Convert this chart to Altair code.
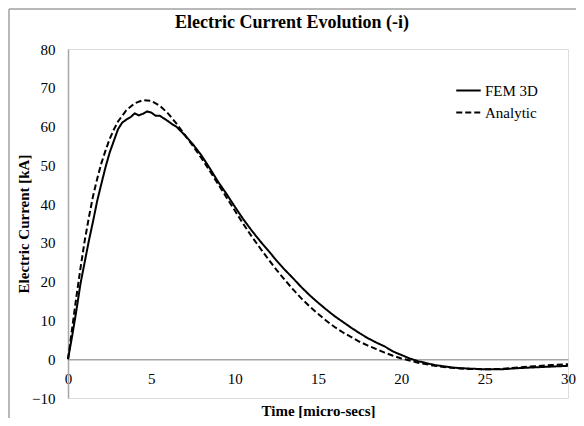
import altair as alt
import pandas as pd

# ---- data ----
series_names = ["FEM 3D", "Analytic"]

t_fem = [0, 0.25, 0.5, 0.75, 1.0, 1.25, 1.5, 1.75, 2.0, 2.25, 2.5, 2.75, 3.0, 3.25, 3.5, 3.75,
         4.0, 4.25, 4.5, 4.75, 5.0, 5.25, 5.5, 5.75, 6.0, 6.25, 6.5, 6.75, 7.0, 7.5, 8.0, 8.5,
         9.0, 9.5, 10.0, 10.5, 11.0, 11.5, 12.0, 12.5, 13.0, 13.5, 14.0, 14.5, 15.0, 15.5,
         16.0, 16.5, 17.0, 17.5, 18.0, 18.5, 19.0, 19.5, 20.0, 20.5, 21.0, 21.5, 22.0, 22.5,
         23.0, 23.5, 24.0, 25.0, 26.0, 27.0, 28.0, 29.0, 30.0]
i_fem = [0, 6.0, 12.5, 19.5, 25.0, 30.5, 35.5, 40.8, 45.2, 49.5, 53.3, 56.3, 59.3, 61.0, 61.8, 62.4,
         63.4, 62.9, 63.3, 63.9, 63.6, 62.8, 62.8, 62.1, 61.4, 60.6, 60.0, 58.9, 57.8, 55.4, 52.6, 49.3,
         45.8, 42.7, 39.4, 36.2, 33.3, 30.6, 28.1, 25.5, 23.1, 20.9, 18.6, 16.5, 14.6, 12.8,
         11.1, 9.6, 8.1, 6.7, 5.4, 4.3, 3.3, 2.0, 1.1, 0.2, -0.5, -1.0, -1.5, -1.8,
         -2.1, -2.3, -2.4, -2.6, -2.6, -2.3, -2.1, -1.9, -1.7]

t_ana = [0, 0.25, 0.5, 0.75, 1.0, 1.25, 1.5, 1.75, 2.0, 2.25, 2.5, 2.75, 3.0, 3.5, 4.0, 4.5,
         5.0, 5.5, 6.0, 6.5, 7.0, 7.5, 8.0, 8.5, 9.0, 9.5, 10.0, 10.5, 11.0, 11.5, 12.0, 12.5,
         13.0, 13.5, 14.0, 14.5, 15.0, 15.5, 16.0, 16.5, 17.0, 17.5, 18.0, 18.5, 19.0, 19.5,
         20.0, 21.0, 22.0, 23.0, 24.0, 25.0, 26.0, 27.0, 28.0, 29.0, 30.0]
i_ana = [0, 8.0, 16.0, 23.5, 30.5, 36.5, 42.0, 46.5, 50.5, 53.8, 56.8, 59.2, 61.3, 64.2, 66.0, 66.8,
         66.6, 65.4, 63.4, 60.8, 57.9, 55.0, 51.9, 48.6, 45.2, 41.8, 38.4, 35.0, 31.8, 28.8, 25.9, 23.1,
         20.5, 18.0, 15.7, 13.6, 11.7, 9.9, 8.3, 6.9, 5.7, 4.5, 3.5, 2.6, 1.7, 0.9,
         0.2, -0.9, -1.7, -2.2, -2.5, -2.6, -2.5, -2.1, -1.8, -1.5, -1.3]

x_ticks = [0, 5, 10, 15, 20, 25, 30]
y_ticks = [-10, 0, 10, 20, 30, 40, 50, 60, 70, 80]

df = pd.concat([
    pd.DataFrame({"t": t_fem, "i": i_fem, "series": series_names[0]}),
    pd.DataFrame({"t": t_ana, "i": i_ana, "series": series_names[1]}),
])

FONT = "Liberation Serif"
AXIS_GRAY = "#a6a6a6"
TXT = "#000000"
W, H = 500, 349
PAD_L, PAD_T = 60, 41

lines = alt.Chart(df).mark_line(strokeWidth=2, color="black").encode(
    x=alt.X("t:Q", scale=alt.Scale(domain=[0, 30], nice=False, zero=False),
            axis=alt.Axis(values=x_ticks, ticks=False, grid=False, domainColor=AXIS_GRAY,
                          domainWidth=1.5, offset=-(10 * H / 90), labelFlush=False,
                          labelFont=FONT, labelFontSize=15, labelColor=TXT,
                          labelPadding=12, labelBaseline="top",
                          title="Time [micro-secs]", titleFont=FONT, titleFontSize=15,
                          titleFontWeight="bold", titleColor=TXT,
                          titleY=51, titleBaseline="middle")),
    y=alt.Y("i:Q", scale=alt.Scale(domain=[-10, 80], nice=False, zero=False),
            axis=alt.Axis(values=y_ticks, ticks=False, grid=False, domainColor=AXIS_GRAY,
                          domainWidth=1.5, labelFont=FONT, labelFontSize=15, labelColor=TXT,
                          labelPadding=13,
                          title="Electric Current [kA]", titleFont=FONT, titleFontSize=15,
                          titleFontWeight="bold", titleColor=TXT,
                          titleX=-45, titleY=H / 2, titleBaseline="middle", titleAlign="center")),
    strokeDash=alt.StrokeDash("series:N",
                              scale=alt.Scale(domain=series_names, range=[[1, 0], [6, 3]]),
                              legend=alt.Legend(orient="none", legendX=387, legendY=28,
                                                title=None, symbolType="stroke",
                                                symbolStrokeWidth=2, symbolStrokeColor="black",
                                                symbolSize=600, labelFont=FONT, labelFontSize=15,
                                                labelColor=TXT, labelOffset=3, padding=0,
                                                rowPadding=0)),
    order=alt.Order("t:Q"),
)

one = pd.DataFrame({"a": [0]})
border_left = alt.Chart(one).mark_rule(color="#a0a0a0", strokeWidth=1.5).encode(
    x=alt.value(-PAD_L + 1), y=alt.value(-PAD_T + 1), y2=alt.value(H + 40)
)
border_top = alt.Chart(one).mark_rule(color="#a0a0a0", strokeWidth=1.5).encode(
    x=alt.value(-PAD_L + 1), x2=alt.value(W + 40), y=alt.value(-PAD_T + 1)
)

chart = alt.layer(border_left, border_top, lines).properties(
    width=W, height=H,
    title=alt.TitleParams("Electric Current Evolution (-i)", font=FONT, fontSize=18,
                          fontWeight="bold", color=TXT, anchor="middle", dx=-26,
                          baseline="alphabetic", offset=-38),
    autosize=alt.AutoSizeParams(type="none"),
    padding={"left": PAD_L, "top": PAD_T, "right": 8, "bottom": 20},
).configure_view(stroke=None).configure(background="white")

chart.save("out.html", embed_options={"renderer": "svg", "actions": False})
